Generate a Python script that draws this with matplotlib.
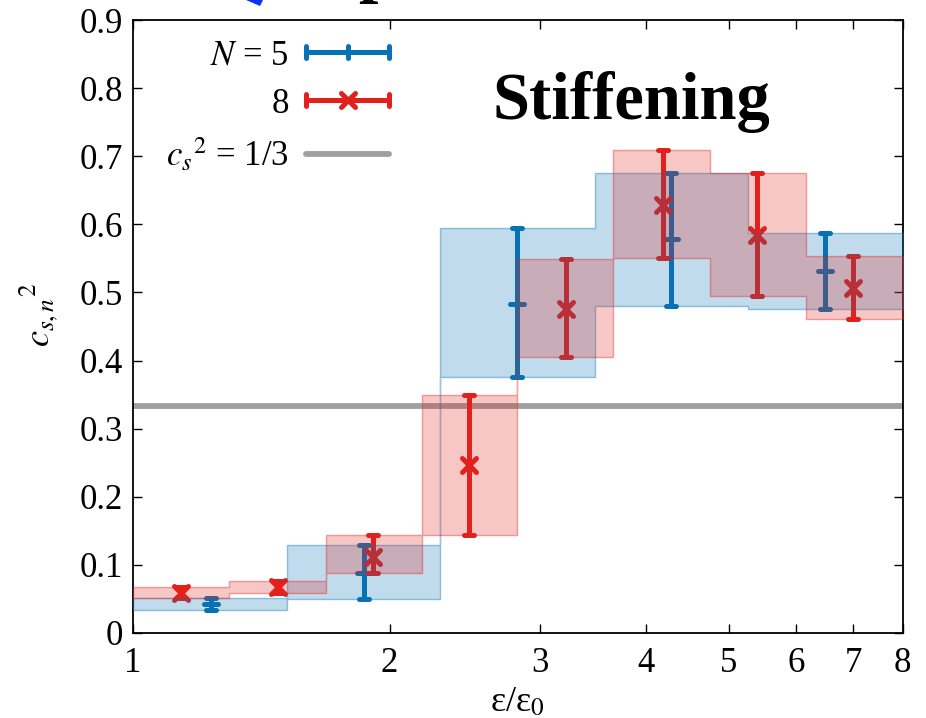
import matplotlib
matplotlib.use("Agg")
import matplotlib.pyplot as plt
from matplotlib.lines import Line2D
from matplotlib.markers import MarkerStyle
from matplotlib.patches import Polygon
from matplotlib.legend_handler import HandlerLine2D, HandlerTuple
from matplotlib.ticker import NullLocator, FixedLocator, FixedFormatter
from matplotlib.colors import to_rgba
import numpy as np

# N = 5 : bin edges in eps/eps0, bin ranges and point estimates
n5_edges = [1.0, 1.514, 2.29, 3.48, 5.27, 8.0]
n5_lo = [0.034, 0.050, 0.376, 0.480, 0.475]
n5_hi = [0.052, 0.129, 0.594, 0.676, 0.588]
n5_x = [1.233, 1.868, 2.818, 4.28, 6.48]
n5_y = [0.043, 0.088, 0.483, 0.578, 0.531]

# N = 8
n8_edges = [1.0, 1.296, 1.683, 2.18, 2.818, 3.66, 4.75, 6.16, 8.0]
n8_lo = [0.051, 0.058, 0.088, 0.144, 0.405, 0.551, 0.495, 0.461]
n8_hi = [0.067, 0.077, 0.144, 0.349, 0.549, 0.709, 0.676, 0.553]
n8_x = [1.14, 1.478, 1.914, 2.48, 3.217, 4.18, 5.40, 7.0]
n8_y = [0.059, 0.067, 0.112, 0.247, 0.475, 0.629, 0.585, 0.507]

cs2_conf = 1.0 / 3.0

xticks = [1, 2, 3, 4, 5, 6, 7, 8]
yticks = [0, 0.1, 0.2, 0.3, 0.4, 0.5, 0.6, 0.7, 0.8, 0.9]
ytick_labels = ["0", "0.1", "0.2", "0.3", "0.4", "0.5", "0.6", "0.7", "0.8", "0.9"]

BLUE = "#0772B3"
RED = "#E3211C"
GRAY = "#A0A0A4"

plt.rcParams["font.family"] = ["Liberation Serif", "DejaVu Serif"]
plt.rcParams["mathtext.fontset"] = "stix"

fig = plt.figure(figsize=(9.26, 7.18), dpi=100)
ax = fig.add_axes([0.1436, 0.1184, 0.8314, 0.8537])
ax.set_xscale("log")

ax.axhline(cs2_conf, color=GRAY, lw=4.2, zorder=1)


def draw_set(edges, lo, hi, xs, ys, color, marker, ms, fill_z):
    xs = np.array(xs)
    ys = np.array(ys)
    lo = np.array(lo)
    hi = np.array(hi)
    # asymmetric error bars from the bin ranges
    yerr = [ys - lo, hi - ys]
    line, caps, bars = ax.errorbar(xs, ys, yerr=yerr, fmt="none", ecolor=color,
                                   elinewidth=3.6, capsize=3.3, capthick=3.6, zorder=2)
    for b in bars:
        b.set_capstyle("round")
    for c in caps:
        c.set_marker(MarkerStyle("_", capstyle="round"))
    ax.plot(xs, ys, ls="none", color=color, marker=MarkerStyle(marker, capstyle="round"),
            ms=ms, mew=3.6, zorder=2)
    # shaded bins
    ax.fill_between(edges, np.append(lo, lo[-1]), np.append(hi, hi[-1]), step="post",
                    facecolor=to_rgba(color, 0.25), edgecolor=to_rgba(color, 0.4),
                    lw=1.0, zorder=fill_z)


draw_set(n5_edges, n5_lo, n5_hi, n5_x, n5_y, BLUE, "_", 10, 3)
draw_set(n8_edges, n8_lo, n8_hi, n8_x, n8_y, RED, "x", 10.5, 4)

ax.set_xlim(1, 8)
ax.set_ylim(0, 0.9)
ax.xaxis.set_major_locator(FixedLocator(xticks))
ax.xaxis.set_major_formatter(FixedFormatter([str(t) for t in xticks]))
ax.xaxis.set_minor_locator(NullLocator())
ax.set_yticks(yticks)
ax.set_yticklabels(ytick_labels)
ax.tick_params(which="both", direction="in", top=True, right=True, length=6.5,
               width=1.0, labelsize=25)
ax.tick_params(axis="x", pad=10)
ax.tick_params(axis="y", pad=7)
for s in ax.spines.values():
    s.set_linewidth(1.3)

ax.set_xlabel("ε/ε$_0$", fontsize=26)
ax.xaxis.set_label_coords(0.5, -0.087)
ax.set_ylabel(r"$c_{s,n}{}^{2}$", fontsize=26)
ax.yaxis.set_label_coords(-0.095, 0.52)

ax.text(0.648, 0.838, "Stiffening", transform=ax.transAxes, ha="center",
        va="baseline", fontsize=48, fontweight="bold")

# legend: labels on the left, errorbar-like samples on the right
h5 = Line2D([], [], color=BLUE, lw=3.6, solid_capstyle="round",
            marker=MarkerStyle("|", capstyle="round"), ms=9, mew=3.6)
h8_caps = Line2D([], [], color=RED, lw=3.6, solid_capstyle="round",
                 marker=MarkerStyle("|", capstyle="round"), ms=9, mew=3.6)
h8_mid = Line2D([], [], color=RED, ls="none",
                marker=MarkerStyle("x", capstyle="round"), ms=9.5, mew=3.6)
hg = Line2D([], [], color=GRAY, lw=4.2, solid_capstyle="round")
hmap = {h5: HandlerLine2D(numpoints=3), h8_caps: HandlerLine2D(numpoints=2),
        h8_mid: HandlerLine2D(numpoints=1), hg: HandlerLine2D(numpoints=2),
        tuple: HandlerTuple(ndivide=1)}
ax.legend([h5, (h8_caps, h8_mid), hg], ["$N$ = 5", "8", r"$c_s{}^2$ = 1/3"],
          handler_map=hmap, loc="upper right", bbox_to_anchor=(0.387, 1.02),
          frameon=False, fontsize=25, markerfirst=False, handlelength=3.0,
          handletextpad=0.19, labelspacing=0.45, borderpad=0.4)

# pieces of the neighbouring panel poking in at the top edge
fig.text(377 / 926, 1 + 11 / 718, "p", fontsize=50, fontweight="bold",
         ha="center", va="baseline")
fig.add_artist(Polygon([[246 / 926, 1.0], [263 / 926, 1.0], [260 / 926, 1 - 6 / 718]],
                       closed=True, transform=fig.transFigure, color="#1030F0", lw=0))

fig.savefig("out.png", dpi=100)
